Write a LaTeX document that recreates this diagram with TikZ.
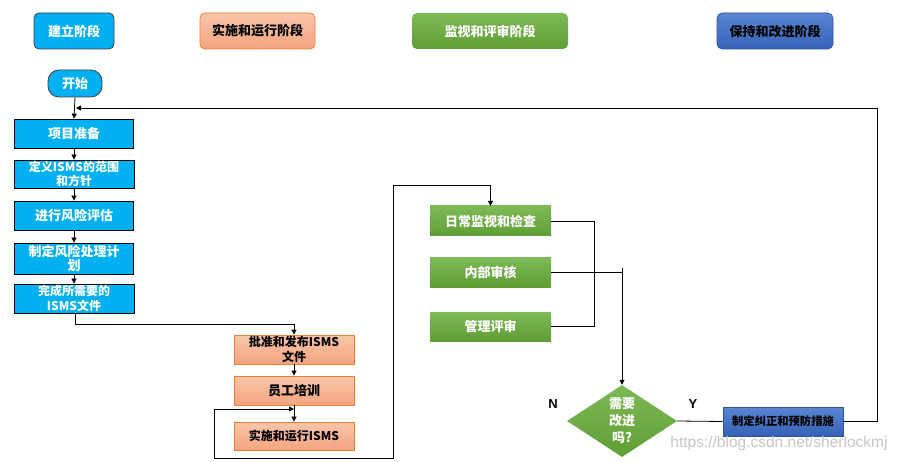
\documentclass[tikz,border=0pt]{standalone}
\usepackage{fontspec}
\setmainfont{Noto Sans CJK SC}
\newfontfamily\latinb{Liberation Sans}
\usetikzlibrary{shapes.geometric,arrows.meta}

\definecolor{cyanfill}{HTML}{00B0F0}
\definecolor{orgtop}{HTML}{F9C6AB}
\definecolor{orgbot}{HTML}{F4A47F}
\definecolor{orgline}{HTML}{ED7D31}
\definecolor{grntop}{HTML}{7EBA57}
\definecolor{grnbot}{HTML}{5E9E34}
\definecolor{blutop}{HTML}{5A85D3}
\definecolor{blubot}{HTML}{3462B6}
\definecolor{bluline}{HTML}{2F5597}

\tikzset{
  x=1pt, y=-1pt,
  txt/.style={font=\fontsize{13}{14.5}\selectfont\bfseries, align=center, inner sep=0pt},
  small/.style={font=\fontsize{12}{14.5}\selectfont\bfseries},
  phase/.style={txt, rounded corners=5pt, minimum height=36pt},
  cyanbox/.style={txt, fill=cyanfill, draw=black, line width=0.8pt, text=white},
  orgbox/.style={txt, top color=orgtop, bottom color=orgbot, draw=orgline, line width=0.8pt, text=black},
  grnbox/.style={txt, top color=grntop, bottom color=grnbot, text=white},
  blubox/.style={txt, top color=blutop, bottom color=blubot, draw=bluline, line width=0.6pt, text=black},
  conn/.style={draw=black, line width=0.8pt},
  arr/.style={conn, -{Triangle[length=5pt,width=5pt]}},
}

\begin{document}
\begin{tikzpicture}
\useasboundingbox[fill=white] (0,0) rectangle (899,462);

% phase headers
\node[phase, cyanbox, draw=black!75, minimum width=80pt] (h1) at (74,31) {建立阶段};
\node[phase, orgbox, minimum width=115pt] (h2) at (257.5,31) {实施和运行阶段};
\node[phase, grnbox, minimum width=156pt] (h3) at (490,31) {监视和评审阶段};
\node[phase, blubox, minimum width=116pt] (h4) at (775,31) {保持和改进阶段};

% establishment column
\node[cyanbox, rounded corners=11pt, draw=black!75, minimum width=54pt, minimum height=27pt] (start) at (75,83.5) {开始};
\node[cyanbox, minimum width=119pt, minimum height=29pt] (p1) at (74,133.5) {项目准备};
\node[cyanbox, small, minimum width=120pt, minimum height=28pt] (p2) at (74,174) {定义ISMS的范围\\和方针};
\node[cyanbox, minimum width=119pt, minimum height=29pt] (p3) at (74,215.5) {进行风险评估};
\node[cyanbox, minimum width=119pt, minimum height=31pt] (p4) at (74,258.5) {制定风险处理计\\划};
\node[cyanbox, small, minimum width=120pt, minimum height=29pt] (p5) at (74,298.5) {完成所需要的\\ISMS文件};

% implementation column
\node[orgbox, small, minimum width=120pt, minimum height=29pt] (o1) at (294,349.5) {批准和发布ISMS\\文件};
\node[orgbox, minimum width=120pt, minimum height=29pt] (o2) at (294,390.5) {员工培训};
\node[orgbox, small, minimum width=120pt, minimum height=28pt] (o3) at (294,436) {实施和运行ISMS};

% monitoring column
\node[grnbox, minimum width=121pt, minimum height=30pt] (g1) at (490.5,221) {日常监视和检查};
\node[grnbox, minimum width=121pt, minimum height=29pt] (g2) at (490.5,272.5) {内部审核};
\node[grnbox, minimum width=121pt, minimum height=29pt] (g3) at (490.5,326.5) {管理评审};

% decision and improvement
\node[diamond, aspect=1.53, inner sep=0pt, minimum width=110pt, minimum height=72pt,
      top color=grntop, bottom color=grnbot] (d) at (622,421) {};
\node[txt, text=white, font=\fontsize{13}{17}\selectfont\bfseries] (dtxt) at (d.center) {需要\\改进\\吗?};
\node[blubox, font=\fontsize{11.3}{14}\selectfont\bfseries, minimum width=120pt, minimum height=29pt] (b) at (783,421.5) {制定纠正和预防措施};

\node[font=\latinb\fontsize{13}{14}\selectfont\bfseries] (nlab) at (553,404) {N};
\node[font=\latinb\fontsize{13}{14}\selectfont\bfseries] (ylab) at (693,404) {Y};

% connectors
\draw[arr] (start.south) -- (p1.north);
\draw[arr] (p1.south) -- (p2.north);
\draw[arr] (p2.south) -- (p3.north);
\draw[arr] (p3.south) -- (p4.north);
\draw[arr] (p4.south) -- (p5.north);

\coordinate (k1) at (75,324);
\draw[arr] (p5.south -| k1) -- (k1) -| (o1.north);
\draw[arr] (o1.south) -- (o2.north);
\draw[arr] (o2.south) -- (o3.north);

% loop back into the implementation step and on to monitoring
\coordinate (c1) at (393,185);
\coordinate (c2) at (393,458);
\coordinate (c3) at (214,458);
\coordinate (c4) at (214,409);
\coordinate (c5) at (294,409);
\draw[arr] (c1) -- (c2) -- (c3) -- (c4) -- (c5);
\draw[arr] (c1) -| (g1.north);

% monitoring outputs gathered to the decision
\coordinate (m1) at (594,221);
\draw[conn] (g1.east) -- (m1) |- (g3.east);
\coordinate (j) at (622,268);
\draw[conn] (g2.east) -- (g2.east -| j);
\draw[arr] (j) -- (d.north);

\draw[conn] (d.east) -- (b.west);

% feedback to the start of the cycle
\coordinate (r1) at (877,421.5);
\coordinate (r2) at (877,108);
\coordinate (r3) at (76,108);
\draw[arr] (b.east) -- (r1) -- (r2) -- (r3);

% watermark
\node[font=\latinb\fontsize{15.5}{17}\selectfont, text=black!22] (wm) at (779,443) {https://blog.csdn.net/sherlockmj};
\end{tikzpicture}
\end{document}
